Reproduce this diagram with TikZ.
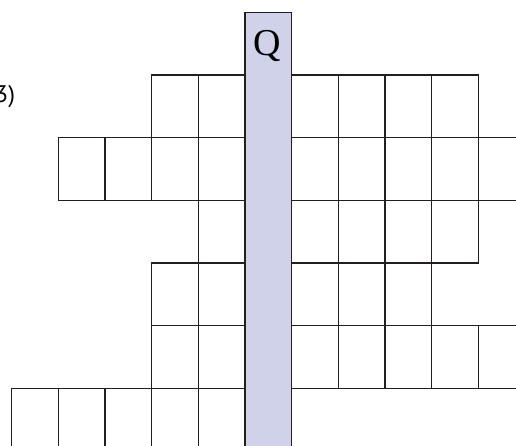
\documentclass[tikz,border=0pt]{standalone}
\usepackage{fontspec}
\setmainfont{Liberation Serif}
\newfontfamily\labelfont{PT Sans}
\definecolor{gridc}{RGB}{35,31,32}
\definecolor{qfill}{RGB}{208,210,234}
\begin{document}
\begin{tikzpicture}[x=1pt,y=-1pt,
  cellbox/.style={draw=gridc, line width=1.4pt},
  qcol/.style={fill=qfill},
  qedge/.style={draw=gridc, line width=1.4pt}]
\useasboundingbox (0,0) rectangle (516,445);
\clip (0,0) rectangle (516,445);
% Q column
\fill[qcol] (245,12.7) rectangle (291.7,460);
\draw[qedge] (245,460) -- (245,12.7) -- (291.7,12.7) -- (291.7,460);
\node[anchor=base, inner sep=0pt, font=\fontsize{38}{38}\selectfont] (q) at (267,55) {Q};
% label
\node[anchor=base west, inner sep=0pt, font=\labelfont\fontsize{24}{24}\selectfont] (lab) at (-5,102.7) {3)};
% cells: row / first col / last col
\foreach \r/\a/\b in {1/3/4, 1/6/9, 2/1/4, 2/6/10, 3/4/4, 3/6/9, 4/3/4, 4/6/8, 5/3/4, 5/6/10, 6/0/4}{
  \foreach \c in {\a,...,\b}{
    \draw[cellbox] ({11.7+46.67*\c},{75+62.67*(\r-1)}) rectangle ++(46.67,62.67);
  }
}
\end{tikzpicture}
\end{document}
